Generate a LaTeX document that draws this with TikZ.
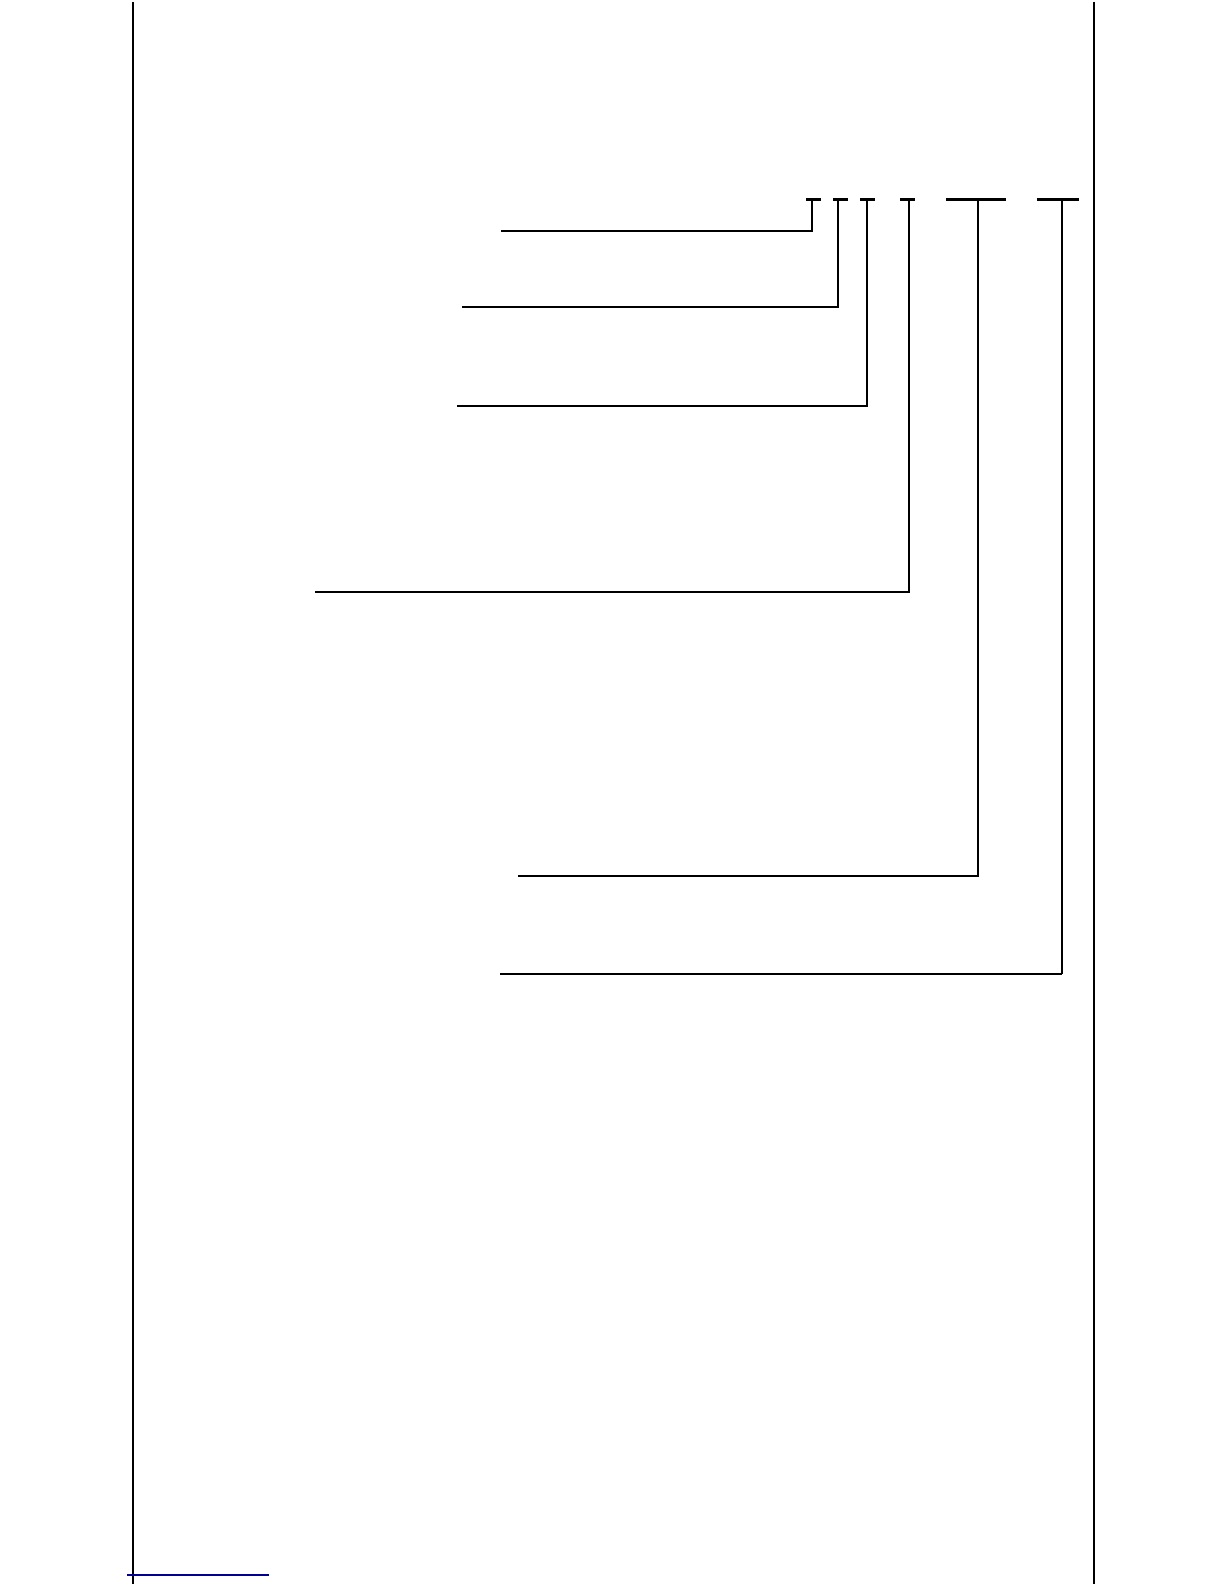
\documentclass[tikz,border=0pt]{standalone}
\begin{document}
\begin{tikzpicture}[x=0.5pt,y=-0.5pt,
  border/.style={line width=1pt,black},
  bar/.style={line width=1.3pt,black},
  leader/.style={line width=0.9pt,black},
  heavy/.style={line width=1.3pt,black},
  footrule/.style={line width=0.8pt,color={rgb,255:red,0;green,0;blue,150}}]
\useasboundingbox[fill=white] (0,0) rectangle (1224,1584);
% page borders
\coordinate (lt) at (133.3,2);
\coordinate (lb) at (133.3,1584);
\coordinate (rt) at (1093.5,2);
\coordinate (rb) at (1093.5,1584);
\draw[border] (lt) -- (lb);
\draw[border] (rt) -- (rb);
% bars (code positions)
\coordinate (b1l) at (806,199.5);  \coordinate (b1r) at (821,199.5);  \coordinate (b1) at (812.3,199.5);
\coordinate (b2l) at (833,199.5);  \coordinate (b2r) at (848,199.5);  \coordinate (b2) at (838.3,199.5);
\coordinate (b3l) at (860,199.5);  \coordinate (b3r) at (875,199.5);  \coordinate (b3) at (867,199.5);
\coordinate (b4l) at (900,199.5);  \coordinate (b4r) at (915,199.5);  \coordinate (b4) at (909.3,199.5);
\coordinate (b5l) at (945.7,199.5);\coordinate (b5r) at (1005.7,199.5);\coordinate (b5) at (978,199.5);
\coordinate (b6l) at (1036.7,199.5);\coordinate (b6r) at (1079,199.5);\coordinate (b6) at (1061.7,199.5);
\foreach \i in {1,...,6} \draw[bar] (b\i l) -- (b\i r);
% left ends of leaders
\coordinate (e1) at (501,231.3);
\coordinate (e2) at (462,307.3);
\coordinate (e3) at (457,406.3);
\coordinate (e4) at (315,592);
\coordinate (e5) at (517.5,876);
\coordinate (e6) at (500,974);
\draw[leader] (b1) |- (e1);
\draw[leader] (b2) |- (e2);
\draw[leader] (b3) |- (e3);
\draw[leader] (b4) |- (e4);
\draw[leader] (b5) |- (e5);
\draw[leader] (b6) -- (b6 |- e6);
\draw[heavy] (b6 |- e6) -- (e6);
% footnote rule
\coordinate (f1) at (127.3,1575);
\coordinate (f2) at (269,1575);
\draw[footrule] (f1) -- (f2);
\end{tikzpicture}
\end{document}
